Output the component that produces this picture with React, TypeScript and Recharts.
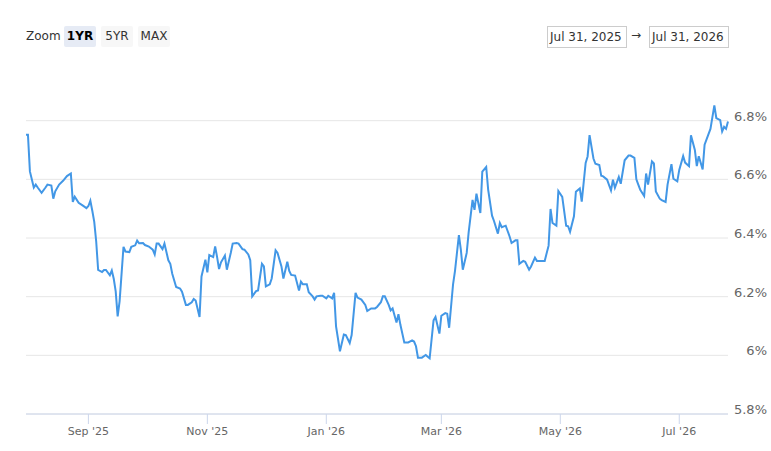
import { LineChart, Line, XAxis, YAxis, CartesianGrid } from 'recharts'

// days after Jul 31, 2025
const dayOffsets = [
  0, 1, 2, 4, 5, 6, 8, 10, 11, 13,
  14, 15, 17, 19, 21, 23, 24, 25, 27, 29,
  31, 32, 33, 34, 35, 36, 37, 39, 40, 41,
  43, 44, 45, 46, 47, 48, 50, 51, 53, 54,
  56, 57, 58, 60, 61, 63, 65, 66, 67, 68,
  70, 71, 73, 74, 75, 77, 79, 80, 82, 83,
  85, 86, 87, 89, 90, 92, 93, 94, 96, 97,
  98, 99, 100, 102, 103, 105, 106, 108, 109, 111,
  112, 114, 115, 116, 118, 119, 121, 122, 123, 125,
  126, 128, 129, 131, 132, 134, 135, 136, 138, 140,
  141, 142, 144, 145, 147, 148, 149, 151, 152, 154,
  155, 157, 158, 159, 161, 163, 164, 166, 167, 169,
  170, 172, 174, 175, 177, 179, 180, 182, 183, 184,
  186, 187, 188, 190, 191, 192, 194, 196, 198, 199,
  200, 201, 203, 205, 206, 207, 209, 210, 212, 213,
  215, 216, 217, 219, 220, 222, 223, 224, 226, 227,
  229, 230, 231, 233, 234, 236, 237, 239, 240, 242,
  243, 244, 246, 248, 249, 251, 252, 253, 255, 256,
  258, 259, 261, 262, 264, 265, 266, 268, 269, 270,
  272, 273, 275, 277, 278, 279, 281, 282, 284, 285,
  287, 288, 289, 291, 292, 294, 295, 296, 298, 300,
  301, 302, 304, 305, 307, 309, 310, 312, 313, 314,
  315, 317, 318, 319, 321, 322, 323, 325, 326, 328,
  329, 331, 332, 334, 335, 337, 338, 340, 341, 343,
  344, 345, 347, 348, 350, 351, 353, 354, 356, 357,
  358, 359, 360,
]

const rates = [
  6.752, 6.752, 6.627, 6.572, 6.582, 6.572, 6.554, 6.572, 6.582, 6.579,
  6.534, 6.559, 6.582, 6.595, 6.611, 6.62, 6.523, 6.541, 6.52, 6.511,
  6.502, 6.509, 6.527, 6.493, 6.455, 6.388, 6.291, 6.284, 6.291, 6.291,
  6.273, 6.289, 6.261, 6.218, 6.133, 6.184, 6.37, 6.354, 6.352, 6.37,
  6.375, 6.391, 6.382, 6.383, 6.376, 6.371, 6.36, 6.344, 6.381, 6.381,
  6.362, 6.381, 6.324, 6.312, 6.278, 6.233, 6.228, 6.217, 6.172, 6.172,
  6.181, 6.192, 6.187, 6.131, 6.269, 6.326, 6.283, 6.342, 6.335, 6.371,
  6.335, 6.294, 6.317, 6.34, 6.292, 6.349, 6.381, 6.383, 6.381, 6.362,
  6.36, 6.344, 6.324, 6.201, 6.219, 6.221, 6.312, 6.303, 6.235, 6.242,
  6.262, 6.358, 6.349, 6.303, 6.262, 6.319, 6.288, 6.274, 6.272, 6.221,
  6.251, 6.242, 6.242, 6.215, 6.201, 6.19, 6.201, 6.203, 6.203, 6.194,
  6.203, 6.194, 6.213, 6.099, 6.014, 6.071, 6.069, 6.042, 6.069, 6.213,
  6.197, 6.19, 6.172, 6.151, 6.16, 6.16, 6.165, 6.181, 6.201, 6.201,
  6.172, 6.153, 6.16, 6.112, 6.14, 6.104, 6.044, 6.044, 6.051, 6.047,
  6.031, 5.992, 5.992, 6.001, 5.995, 5.99, 6.119, 6.131, 6.074, 6.135,
  6.144, 6.142, 6.094, 6.242, 6.288, 6.41, 6.36, 6.292, 6.349, 6.419,
  6.53, 6.496, 6.551, 6.485, 6.626, 6.642, 6.565, 6.476, 6.458, 6.415,
  6.451, 6.437, 6.442, 6.405, 6.383, 6.392, 6.392, 6.312, 6.322, 6.319,
  6.292, 6.303, 6.333, 6.322, 6.322, 6.322, 6.322, 6.374, 6.499, 6.451,
  6.442, 6.56, 6.54, 6.442, 6.44, 6.421, 6.474, 6.558, 6.569, 6.524,
  6.656, 6.678, 6.751, 6.671, 6.653, 6.649, 6.612, 6.61, 6.599, 6.562,
  6.599, 6.571, 6.608, 6.585, 6.665, 6.681, 6.681, 6.673, 6.6, 6.582,
  6.564, 6.543, 6.62, 6.582, 6.661, 6.654, 6.559, 6.534, 6.529, 6.523,
  6.582, 6.652, 6.602, 6.593, 6.632, 6.679, 6.657, 6.645, 6.75, 6.7,
  6.645, 6.679, 6.634, 6.718, 6.754, 6.772, 6.852, 6.809, 6.802, 6.763,
  6.779, 6.772, 6.797,
]

const monthStarts = ['2025-09-01', '2025-11-01', '2026-01-01', '2026-03-01', '2026-05-01', '2026-07-01']
const monthLabels = ["Sep '25", "Nov '25", "Jan '26", "Mar '26", "May '26", "Jul '26"]
const yTicks = [5.8, 6, 6.2, 6.4, 6.6, 6.8]
const zoomButtons = ['1YR', '5YR', 'MAX']
const rangeFrom = 'Jul 31, 2025'
const rangeTo = 'Jul 31, 2026'

const START = Date.UTC(2025, 6, 31)
const DAY = 86400000
const tickDays = monthStarts.map((d) => Math.round((Date.parse(d) - START) / DAY))

const data = dayOffsets.map((day, i) => ({ day, rate: rates[i] }))

const FONT = '"DejaVu Sans", sans-serif'

function YTick(props: any) {
  const { y, payload } = props
  return (
    <text x={767} y={y} textAnchor="end" fontSize={13} fill="#666" fontFamily={FONT}>
      {payload.value}%
    </text>
  )
}

const boxStyle: React.CSSProperties = {
  position: 'absolute',
  top: 26,
  height: 20,
  border: '1px solid #cccccc',
  fontSize: 12,
  lineHeight: '20px',
  color: '#333',
  padding: '0 2px',
  boxSizing: 'content-box',
}

export default function App() {
  return (
    <div style={{ position: 'absolute', left: 0, top: 0, width: 771, height: 451, background: '#fff', fontFamily: FONT }}>
      <div style={{ position: 'absolute', left: 26, top: 29, fontSize: 12, color: '#333' }}>Zoom</div>
      {zoomButtons.map((b, i) => (
        <div
          key={b}
          style={{
            position: 'absolute',
            left: 64 + i * 37,
            top: 26,
            width: 32,
            height: 21,
            borderRadius: 2,
            background: i === 0 ? '#e6ebf5' : '#f7f7f7',
            fontSize: 12,
            lineHeight: '21px',
            textAlign: 'center',
            color: i === 0 ? '#000' : '#333',
            fontWeight: i === 0 ? 'bold' : 'normal',
          }}
        >
          {b}
        </div>
      ))}
      <div style={{ ...boxStyle, left: 547, width: 74 }}>{rangeFrom}</div>
      <div style={{ position: 'absolute', left: 631, top: 28, fontSize: 12, color: '#333' }}>→</div>
      <div style={{ ...boxStyle, left: 649, width: 74 }}>{rangeTo}</div>
      <div style={{ position: 'absolute', left: 0, top: 0 }}>
        <LineChart width={771} height={451} data={data} margin={{ top: 62, right: 0, bottom: 0, left: 26 }}>
          <CartesianGrid vertical={false} stroke="#e6e6e6" horizontalValues={yTicks} />
          <XAxis
            dataKey="day"
            type="number"
            domain={[0, 360]}
            ticks={tickDays}
            tickFormatter={(v: number) => monthLabels[tickDays.indexOf(v)]}
            axisLine={{ stroke: '#ccd6eb' }}
            tickLine={{ stroke: '#ccd6eb' }}
            tickSize={10}
            tickMargin={3}
            tick={{ fill: '#666', fontSize: 11, fontFamily: FONT }}
            height={37}
          />
          <YAxis
            orientation="right"
            type="number"
            domain={[5.8, 7.0]}
            ticks={yTicks}
            axisLine={false}
            tickLine={false}
            tick={<YTick />}
            width={43}
          />
          <Line
            type="linear"
            dataKey="rate"
            stroke="#4297e6"
            strokeWidth={2}
            dot={false}
            isAnimationActive={false}
          />
        </LineChart>
      </div>
    </div>
  )
}
